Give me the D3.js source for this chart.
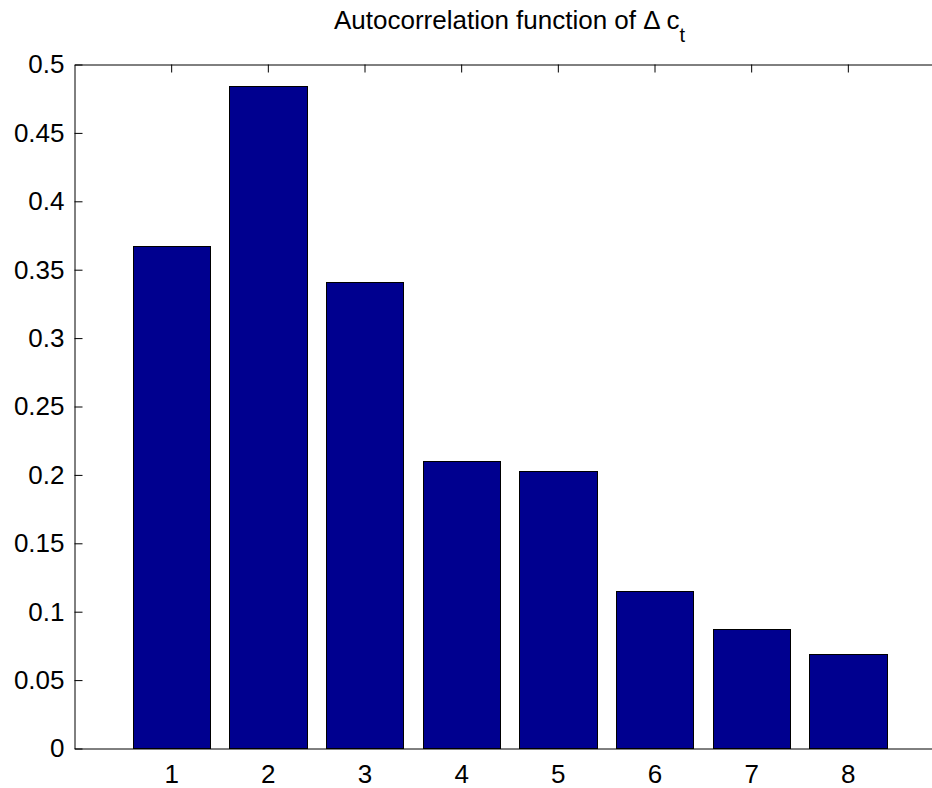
<!DOCTYPE html>
<html>
<head>
<meta charset="utf-8">
<script src="https://cdn.jsdelivr.net/npm/d3@7"></script>
<style>
  html, body { margin: 0; padding: 0; background: #fff; }
  svg { display: block; font-family: "Liberation Sans", Arial, Helvetica, sans-serif; }
</style>
</head>
<body>
<svg id="chart" width="932" height="788"></svg>
<script>
// Autocorrelation of consumption growth, lags 1..8
const lags = [1, 2, 3, 4, 5, 6, 7, 8];
const acf = [0.367, 0.484, 0.341, 0.210, 0.203, 0.115, 0.087, 0.069];
const yTicks = [0, 0.05, 0.1, 0.15, 0.2, 0.25, 0.3, 0.35, 0.4, 0.45, 0.5];
const yTickLabels = ["0", "0.05", "0.1", "0.15", "0.2", "0.25", "0.3", "0.35", "0.4", "0.45", "0.5"];

const svg = d3.select("#chart");
const plotLeft = 74.5, plotTop = 64.5, plotBottom = 748.5, plotRight = 944.5;
const fontSize = 26;

const x = d3.scaleLinear().domain([0, 9]).range([plotLeft, plotRight]);
const y = d3.scaleLinear().domain([0, 0.5]).range([plotBottom, plotTop]);
const barW = 0.8;

// bars
svg.append("g").selectAll("rect")
  .data(lags)
  .join("rect")
  .attr("x", (d) => Math.round(x(d - barW / 2)) + 0.5)
  .attr("width", (d) => Math.round(x(d + barW / 2)) - Math.round(x(d - barW / 2)))
  .attr("y", (d, i) => Math.round(y(acf[i])) + 0.5)
  .attr("height", (d, i) => plotBottom - (Math.round(y(acf[i])) + 0.5))
  .attr("fill", "#00008f")
  .attr("stroke", "#000")
  .attr("stroke-width", 1);

// y axis (ticks pointing inward)
const yAxis = d3.axisLeft(y)
  .tickValues(yTicks)
  .tickFormat((d, i) => yTickLabels[i])
  .tickSizeInner(-8)
  .tickSizeOuter(0)
  .tickPadding(10);
const gy = svg.append("g").attr("transform", `translate(${plotLeft},0)`).call(yAxis);
gy.attr("font-size", fontSize).attr("font-family", "Liberation Sans, Arial, sans-serif");
gy.select(".domain").attr("stroke", "#000");
gy.selectAll(".tick line").attr("stroke", "#000");
gy.selectAll(".tick text").attr("fill", "#000");

// bottom axis: labels only, tick marks lie behind bars
const xAxis = d3.axisBottom(x)
  .tickValues(lags)
  .tickFormat(d3.format("d"))
  .tickSizeInner(0)
  .tickSizeOuter(0)
  .tickPadding(16);
const gx = svg.append("g").attr("transform", `translate(0,${plotBottom})`).call(xAxis);
gx.attr("font-size", fontSize).attr("font-family", "Liberation Sans, Arial, sans-serif");
gx.select(".domain").attr("stroke", "#000");
gx.selectAll(".tick text").attr("fill", "#000");

// top box edge with mirrored ticks
const xTop = d3.axisTop(x)
  .tickValues(lags)
  .tickFormat("")
  .tickSizeInner(-8)
  .tickSizeOuter(0);
const gt = svg.append("g").attr("transform", `translate(0,${plotTop})`).call(xTop);
gt.select(".domain").attr("stroke", "#000");
gt.selectAll(".tick line").attr("stroke", "#000");

// title
const title = svg.append("text")
  .attr("x", (plotLeft + plotRight) / 2)
  .attr("y", 29)
  .attr("text-anchor", "middle")
  .attr("font-size", fontSize)
  .attr("fill", "#000");
title.append("tspan").text("Autocorrelation function of \u0394 c");
title.append("tspan").attr("dy", 13).attr("font-size", 20).text("t");
</script>
</body>
</html>
